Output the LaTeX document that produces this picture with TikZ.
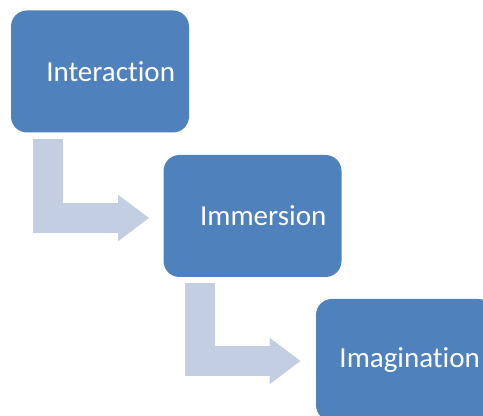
\documentclass[tikz,border=0pt]{standalone}
\usepackage{fontspec}
\setmainfont[Ligatures=NoCommon]{Carlito}
\usepackage{tikz}
\usetikzlibrary{arrows.meta, positioning, calc}

\definecolor{boxblue}{HTML}{4F81BD}
\definecolor{arrowblue}{HTML}{C4CEE3}

\begin{document}
\begin{tikzpicture}[x=0.75pt, y=-0.75pt,
  stage/.style={rectangle, rounded corners=12pt, fill=boxblue, text=white,
    minimum width=133.5pt, minimum height=91.5pt, inner sep=0pt,
    font=\fontsize{21.75}{26}\selectfont,
    execute at begin node=\hspace*{#1}},
  stage/.default=16pt,
  bentarrow/.style={draw=arrowblue, line width=22.5pt, line join=miter,
    -{Triangle[width=33pt, length=23.25pt]}}]
\useasboundingbox (0,0) rectangle (483,416);
\clip (0,0) rectangle (483,416);

% Stages
\node[stage] (inter) at (100, 71.5) {Interaction};
\node[stage] (immer) at (252.5, 216) {Immersion};
\node[stage=7pt] (imag) at (405, 360) {Imagination};

% Bent arrows between stages
\draw[bentarrow] ($(inter.south west)+(37,6)$) |- ($(immer.west)+(-14,2)$);
\draw[bentarrow] ($(immer.south west)+(37,6)$) |- ($(imag.west)+(-15,1)$);
\end{tikzpicture}
\end{document}
